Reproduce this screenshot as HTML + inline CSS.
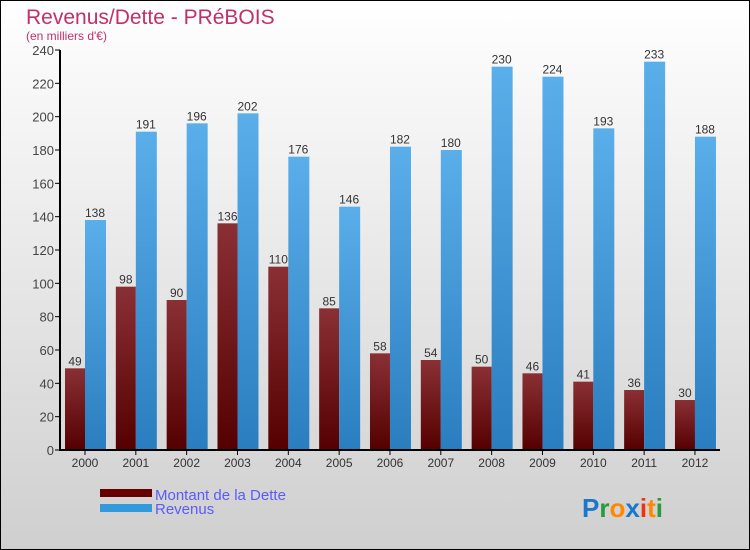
<!DOCTYPE html>
<html><head><meta charset="utf-8"><style>
body{margin:0}
svg{display:block;font-family:"Liberation Sans",sans-serif}
</style></head><body>
<svg id="c" width="750" height="550" viewBox="0 0 750 550">
<defs>
<linearGradient id="bg" x1="0" y1="0" x2="0" y2="1"><stop offset="0" stop-color="#ffffff"/><stop offset="1" stop-color="#cfcfcf"/></linearGradient>
<linearGradient id="gd" x1="0" y1="0" x2="0" y2="1"><stop offset="0" stop-color="#8a3035"/><stop offset="1" stop-color="#550000"/></linearGradient>
<linearGradient id="gr" x1="0" y1="0" x2="0" y2="1"><stop offset="0" stop-color="#5aaeea"/><stop offset="1" stop-color="#2a7ebf"/></linearGradient>
</defs>
<rect x="0.5" y="0.5" width="749" height="549" fill="url(#bg)" stroke="#000"/>
<text x="26" y="24" font-size="21" fill="#c0306a">Revenus/Dette - PRéBOIS</text>
<text x="26" y="40" font-size="12" fill="#c0306a">(en milliers d'€)</text>
<g id="plot"></g>
<g>
<rect x="100" y="489" width="52" height="8" fill="#660000"/>
<text x="155" y="500" font-size="15" fill="#5a5aff">Montant de la Dette</text>
<rect x="100" y="504" width="52" height="8" fill="#3399dd"/>
<text x="155" y="514" font-size="15" fill="#5a5aff">Revenus</text>
</g>
<text x="582" y="517" font-size="26" font-weight="bold"><tspan fill="#1a77cc">P</tspan><tspan fill="#2a9a3a">r</tspan><tspan fill="#ff8800">o</tspan><tspan fill="#1a77cc">x</tspan><tspan fill="#ee3311">i</tspan><tspan fill="#ff8800">t</tspan><tspan fill="#2a9a3a">i</tspan></text>
</svg>
<script>
const years=["2000","2001","2002","2003","2004","2005","2006","2007","2008","2009","2010","2011","2012"];
const dette=[49,98,90,136,110,85,58,54,50,46,41,36,30];
const revenus=[138,191,196,202,176,146,182,180,230,224,193,233,188];
const yTicks=[0,20,40,60,80,100,120,140,160,180,200,220,240];
const NS="http://www.w3.org/2000/svg";
const g=document.getElementById('plot');
const y=v=>450-v*400/240;
const x=i=>85+i*50.83;
function mk(t,a,txt){const e=document.createElementNS(NS,t);for(const k in a)e.setAttribute(k,a[k]);if(txt!=null)e.textContent=txt;g.appendChild(e);return e;}
yTicks.forEach(v=>{
 const t=mk('line',{x1:55,x2:60,y1:y(v),y2:y(v),stroke:'#000'});
 
 
 const l=mk('text',{x:54,y:y(v)+5,'font-size':13,fill:'#444','text-anchor':'end'},v);
 
 
});
years.forEach((yr,i)=>{
 const cx=x(i);
 const b1=mk('rect',{x:cx-20,y:y(dette[i]),width:20,height:450-y(dette[i]),fill:'url(#gd)'});
 
 
 const b2=mk('rect',{x:cx,y:y(revenus[i]),width:21,height:450-y(revenus[i]),fill:'url(#gr)'});
 
 
 const v1=mk('text',{x:cx-10,y:y(dette[i])-3,'font-size':12,fill:'#333','text-anchor':'middle'},dette[i]);
 
 
 const v2=mk('text',{x:cx+10,y:y(revenus[i])-3,'font-size':12,fill:'#333','text-anchor':'middle'},revenus[i]);
 
 
 const tk=mk('line',{x1:cx,x2:cx,y1:450,y2:455,stroke:'#000'});
 
 
 const xl=mk('text',{x:cx,y:467,'font-size':12,fill:'#333','text-anchor':'middle'},yr);
 
 
});
const ya=mk('line',{x1:60,x2:60,y1:50,y2:450,stroke:'#000','stroke-width':2});


const xa=mk('line',{x1:59,x2:720,y1:450,y2:450,stroke:'#000','stroke-width':2});


</script>
</body></html>
